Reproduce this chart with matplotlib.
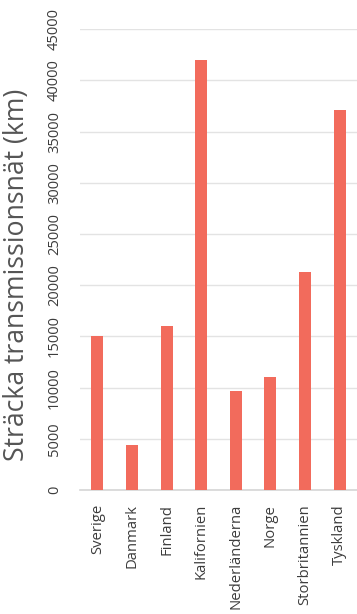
import matplotlib
matplotlib.use("Agg")
import matplotlib.pyplot as plt
import numpy as np

categories = ["Sverige", "Danmark", "Finland", "Kalifornien", "Nederländerna",
              "Norge", "Storbritannien", "Tyskland"]
values = [15000, 4400, 16000, 42000, 9700, 11000, 21300, 37100]
yticks = [0, 5000, 10000, 15000, 20000, 25000, 30000, 35000, 40000, 45000]

plt.rcParams['font.family'] = ['Open Sans', 'DejaVu Sans']

W, H = 357, 614
fig = plt.figure(figsize=(W / 100, H / 100), dpi=100)
left, right, top, bottom = 80, 357, 29.2, 490
ax = fig.add_axes([left / W, (H - bottom) / H, (right - left) / W, (bottom - top) / H])

x = np.arange(len(categories))
ax.bar(x, values, width=0.35, color='#F26B5C', zorder=3)
ax.set_xlim(-0.5, len(categories) - 0.5)
ax.set_ylim(0, 45000)
ax.set_yticks(yticks)
ax.set_yticklabels([str(v) for v in yticks], rotation=90, va='center')
ax.set_xticks(x)
ax.set_xticklabels(categories, rotation=90)

for s in ['top', 'right', 'left']:
    ax.spines[s].set_visible(False)
ax.spines['bottom'].set_color('#d6d6d6')
ax.spines['bottom'].set_linewidth(1.2)
ax.grid(axis='y', color='#e3e3e3', linewidth=1.0, zorder=0)
ax.tick_params(axis='y', length=0, pad=13, labelsize=10.5, labelcolor='#3c3c3c')
ax.tick_params(axis='x', length=0, pad=10, labelsize=10.7, labelcolor='#3c3c3c')

ax.set_ylabel("Sträcka transmissionsnät (km)", fontsize=19.2, color='#555555')
ax.yaxis.set_label_coords((31 - left) / (right - left), (bottom - 275) / (bottom - top))

fig.savefig("out.png", dpi=100)
